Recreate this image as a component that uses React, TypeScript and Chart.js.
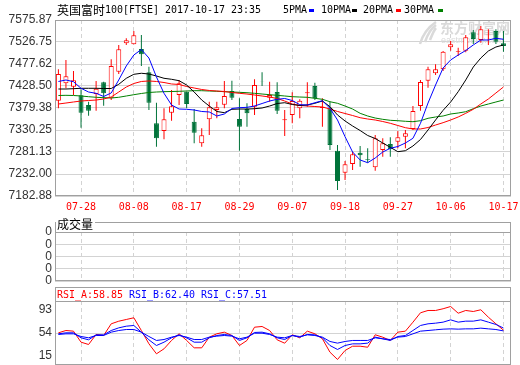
import React, { useEffect, useRef } from 'react';
import { Chart, registerables } from 'chart.js';

Chart.register(...registerables);

// ---------- data ----------
const dates = ['07-25','07-26','07-27','07-28','07-31','08-01','08-02','08-03','08-04','08-07','08-08','08-09','08-10','08-11','08-14','08-15','08-16','08-17','08-18','08-21','08-22','08-23','08-24','08-25','08-29','08-30','08-31','09-01','09-04','09-05','09-06','09-07','09-08','09-11','09-12','09-13','09-14','09-15','09-18','09-19','09-20','09-21','09-22','09-25','09-26','09-27','09-28','09-29','10-02','10-03','10-04','10-05','10-06','10-09','10-10','10-11','10-12','10-13','10-16','10-17'];
const tickDates = ['07-28','08-08','08-17','08-29','09-07','09-18','09-27','10-06','10-17'];

const opens = [7395.7,7434.5,7427.0,7407.6,7386.1,7410.6,7436.7,7400.9,7460.5,7523.8,7521.5,7511.1,7459.0,7345.1,7328.0,7369.0,7408.4,7415.8,7348.9,7300.5,7354.1,7374.9,7386.8,7417.3,7354.8,7377.1,7382.4,7438.2,7402.4,7415.1,7351.8,7363.7,7378.6,7412.1,7428.5,7379.4,7378.6,7284.1,7235.0,7254.3,7279.6,7265.5,7246.9,7285.6,7299.0,7304.2,7315.4,7332.5,7383.8,7440.4,7456.8,7465.7,7514.8,7505.2,7507.4,7548.3,7531.2,7541.6,7551.3,7523.8];
const highs = [7465.7,7486.6,7462.0,7421.0,7393.5,7439.6,7438.2,7488.0,7520.0,7534.9,7551.3,7542.4,7471.7,7391.3,7378.6,7419.6,7441.9,7415.8,7377.1,7333.9,7393.5,7393.5,7439.6,7440.4,7400.9,7389.8,7443.4,7459.0,7438.2,7436.7,7374.9,7414.4,7398.7,7436.7,7436.0,7400.9,7393.5,7296.8,7261.0,7281.9,7294.5,7289.3,7319.1,7311.7,7313.9,7328.0,7330.3,7383.8,7441.9,7471.7,7476.9,7506.7,7529.0,7514.1,7542.4,7553.5,7562.5,7555.0,7555.0,7551.3];
const lows = [7378.6,7423.3,7408.4,7335.5,7362.3,7373.4,7384.6,7397.2,7455.3,7520.0,7521.5,7473.1,7374.9,7293.0,7309.4,7351.1,7386.1,7378.6,7300.5,7293.0,7319.1,7356.3,7378.6,7397.2,7284.1,7337.7,7363.7,7428.5,7393.5,7366.0,7316.8,7345.1,7356.3,7382.4,7397.2,7337.7,7285.6,7196.3,7218.6,7240.9,7248.4,7257.3,7239.5,7270.7,7270.7,7289.3,7289.3,7330.3,7373.4,7424.8,7453.1,7462.0,7507.4,7495.5,7503.7,7522.3,7525.3,7520.0,7522.3,7505.2];
const closes = [7455.3,7450.1,7441.1,7369.0,7373.4,7422.5,7412.1,7473.1,7510.4,7530.5,7541.6,7499.2,7391.3,7311.6,7354.1,7383.1,7434.5,7388.3,7324.3,7318.3,7380.9,7380.9,7406.2,7402.4,7337.7,7367.5,7430.7,7437.4,7408.4,7373.4,7354.1,7395.0,7395.7,7414.4,7400.9,7382.4,7296.8,7216.4,7253.6,7275.9,7273.7,7264.0,7311.7,7300.5,7287.1,7313.9,7322.8,7372.7,7437.4,7465.7,7465.7,7505.2,7521.5,7506.7,7537.2,7533.4,7555.0,7543.1,7527.5,7517.8];

const ma5 = [7438.6,7441.9,7438.1,7423.4,7415.1,7412.2,7405.1,7412.9,7441.9,7473.2,7497.7,7510.0,7491.0,7448.6,7412.2,7386.1,7377.1,7376.5,7374.9,7371.6,7370.5,7361.5,7366.0,7378.3,7380.1,7380.9,7383.8,7389.4,7395.0,7398.8,7400.6,7396.1,7386.8,7386.1,7391.2,7395.7,7378.7,7352.6,7315.3,7281.1,7263.3,7257.2,7267.7,7281.1,7289.4,7293.4,7301.2,7311.7,7345.2,7390.5,7430.7,7468.7,7486.6,7497.7,7507.8,7520.1,7531.2,7531.2,7535.0,7532.8];
const ma10 = [7421.8,7421.8,7422.5,7423.4,7423.4,7423.4,7422.9,7422.9,7432.3,7445.7,7454.6,7456.9,7455.3,7450.8,7445.7,7443.5,7440.3,7430.7,7415.1,7397.2,7383.8,7371.6,7368.9,7376.5,7377.1,7377.1,7377.8,7379.4,7383.8,7389.4,7391.2,7387.2,7385.0,7386.1,7389.9,7395.0,7382.3,7363.8,7350.4,7339.2,7329.1,7318.0,7311.3,7301.2,7291.6,7281.8,7284.0,7294.5,7309.0,7330.3,7352.6,7374.2,7392.8,7415.8,7441.9,7470.9,7491.0,7506.7,7515.6,7520.1];
const ma20 = [7388.3,7390.5,7392.8,7395.0,7396.1,7397.2,7399.5,7403.9,7415.1,7426.3,7434.1,7438.6,7439.7,7438.6,7436.3,7433.0,7431.9,7427.4,7424.0,7420.7,7418.5,7417.3,7416.2,7414.0,7412.2,7410.6,7408.4,7406.2,7403.9,7400.6,7395.0,7388.3,7385.0,7383.8,7382.7,7381.6,7377.1,7371.6,7367.1,7362.6,7357.7,7354.8,7352.6,7349.2,7345.2,7340.3,7335.4,7332.5,7332.5,7335.8,7341.4,7346.6,7352.6,7359.3,7367.5,7376.5,7388.3,7399.5,7412.9,7426.3];
const ma30 = [7407.3,7407.7,7407.3,7406.2,7404.6,7403.3,7402.4,7401.7,7403.3,7406.2,7409.1,7411.8,7414.0,7415.1,7415.8,7416.2,7416.7,7417.3,7418.0,7418.0,7417.3,7416.7,7415.8,7415.1,7414.4,7413.5,7412.2,7410.6,7409.1,7407.7,7406.2,7404.6,7403.9,7403.3,7401.0,7398.8,7393.4,7389.9,7383.8,7377.1,7367.5,7361.5,7357.0,7354.1,7351.9,7351.0,7349.7,7348.8,7351.0,7356.4,7359.3,7361.5,7366.0,7368.2,7371.1,7377.8,7383.8,7388.3,7392.8,7397.2];

const priceTicks = [7182.88, 7232.00, 7281.13, 7330.25, 7379.38, 7428.50, 7477.62, 7526.75, 7575.87];

const volumes = [0,0,0,0,0,0,0,0,0,0,0,0,0,0,0,0,0,0,0,0,0,0,0,0,0,0,0,0,0,0,0,0,0,0,0,0,0,0,0,0,0,0,0,0,0,0,0,0,0,0,0,0,0,0,0,0,0,0,0,0];
const volumeTickLabels = ['0', '0', '0', '0', '0'];

const rsiA = [54.3,58.2,57.1,38.5,34.6,51.5,49.8,69.5,73.9,76.8,79.7,58.2,35.8,18.9,27.3,41.4,52.7,41.4,29.0,29.0,46.9,52.7,55.4,49.8,32.9,41.4,63.8,65.0,58.2,42.5,36.8,51.0,45.9,57.1,52.7,44.2,21.6,9.3,24.5,31.7,31.7,30.0,51.0,46.9,41.4,55.4,57.1,72.2,88.1,92.0,92.0,94.9,98.7,87.4,92.0,90.3,93.2,80.7,69.5,58.85];
const rsiB = [52.6,54.3,54.3,45.9,42.5,50.9,50.9,58.2,62.7,65.5,66.7,55.4,42.5,32.9,38.5,45.9,50.9,45.9,38.5,38.5,45.9,49.8,51.5,49.8,41.4,45.9,54.9,55.4,52.6,45.9,43.0,49.8,47.0,51.5,50.9,45.9,32.9,26.2,32.9,35.7,35.7,36.9,47.0,44.2,41.4,48.1,49.8,58.2,66.7,69.5,70.6,72.3,76.2,72.3,74.0,74.0,76.2,72.3,68.4,62.40];
const rsiC = [51.5,52.6,52.6,48.1,45.9,49.8,49.8,55.4,58.2,59.9,59.9,55.4,48.1,41.4,43.0,47.0,49.8,47.0,43.0,43.0,47.0,48.7,49.8,48.7,44.2,47.0,53.7,53.7,51.5,47.0,45.9,49.8,48.1,50.9,49.8,47.0,39.7,36.9,39.7,41.4,41.4,41.4,45.9,44.2,43.0,47.0,48.1,52.6,57.1,58.2,59.4,60.5,61.0,60.5,61.0,61.0,62.2,61.0,59.9,57.51];
const rsiTicks = [15, 54, 93];

const titleName = '英国富时';
const titleCode = '100[FTSE] 2017-10-17 23:35';
const maNames = ['5PMA', '10PMA', '20PMA', '30PMA'];

// ---------- styles ----------
const BLUE = '#0000ff';
const BLACK = '#000000';
const RED = '#ff0000';
const MA_GREEN = '#008000';
const CANDLE_GREEN = '#00733a';
const GRID = '#d3d3d3';
const FRAME = '#a0a0a0';
const LABEL = '#333333';
const SANS = '"Liberation Sans", Arial, sans-serif';
const MONO = '"DejaVu Sans Mono", "Liberation Mono", monospace';
const CJK = '"Noto Sans CJK SC", "Noto Sans CJK JP", sans-serif';
const maColors = [BLUE, BLACK, RED, MA_GREEN];

const X_MIN = -0.45;
const X_MAX = 60;
const tickIndexes = tickDates.map((d) => dates.indexOf(d));

function makeX(showLabels: boolean): any {
  return {
    type: 'linear',
    min: X_MIN,
    max: X_MAX,
    offset: false,
    afterBuildTicks: (s: any) => {
      s.ticks = tickIndexes.map((v) => ({ value: v }));
    },
    afterFit: (s: any) => {
      s.height = showLabels ? 18 : 0;
      s.paddingLeft = 0;
      s.paddingRight = 0;
    },
    ticks: {
      display: showLabels,
      autoSkip: false,
      maxRotation: 0,
      minRotation: 0,
      padding: 5,
      color: RED,
      font: { family: MONO, size: 10 },
      callback: (v: any) => dates[v] ?? '',
    },
    grid: { color: GRID, drawTicks: false, offset: false, borderDash: [4, 3] },
    border: { display: false, dash: [4, 3] },
  };
}

function makeY(min: number, max: number, ticks: number[], fmt: (v: number, i: number) => string, gridColor: any): any {
  return {
    type: 'linear',
    min,
    max,
    afterBuildTicks: (s: any) => {
      s.ticks = ticks.map((v) => ({ value: v }));
    },
    afterFit: (s: any) => {
      s.width = 55;
      s.paddingTop = 0;
      s.paddingBottom = 0;
    },
    ticks: {
      autoSkip: false,
      padding: 3,
      color: LABEL,
      font: { family: SANS, size: 12 },
      callback: (v: any, i: number) => fmt(Number(v), i),
    },
    grid: { color: gridColor, drawTicks: false },
    border: { display: false },
  };
}

const framePlugin = {
  id: 'frame',
  afterDraw(chart: any) {
    const { ctx, chartArea: a } = chart;
    ctx.save();
    ctx.strokeStyle = FRAME;
    ctx.lineWidth = 1;
    ctx.strokeRect(Math.round(a.left) + 0.5, Math.round(a.top) + 0.5, Math.round(a.right - a.left) - 1, Math.round(a.bottom - a.top) - 1);
    ctx.restore();
  },
};

const mainHeaderPlugin = {
  id: 'mainHeader',
  beforeDatasetsDraw(chart: any) {
    // watermark
    const ctx = chart.ctx;
    ctx.save();
    ctx.fillStyle = '#dadada';
    ctx.strokeStyle = '#dadada';
    ctx.lineWidth = 2.5;
    for (let k = 0; k < 3; k++) {
      ctx.beginPath();
      ctx.moveTo(420 + k * 5, 44 - k * 2);
      ctx.quadraticCurveTo(424 + k * 5, 30, 436, 22 + k * 3);
      ctx.stroke();
    }
    ctx.textBaseline = 'middle';
    ctx.font = `bold 14px ${CJK}`;
    ctx.fillText('东方财富网', 440, 28, 70);
    ctx.font = `9px ${SANS}`;
    ctx.fillText('eastmoney.com', 441, 41, 64);
    ctx.restore();
  },
  afterDraw(chart: any) {
    const ctx = chart.ctx;
    ctx.save();
    ctx.textBaseline = 'middle';
    ctx.fillStyle = '#000';
    ctx.font = `12px ${CJK}`;
    ctx.fillText(titleName, 57, 10);
    ctx.font = `11px ${MONO}`;
    ctx.fillText(titleCode, 105, 10, 156);
    const textX = [283, 321, 363, 404];
    const boxX = [309, 352, 396, 438];
    maNames.forEach((name, i) => {
      ctx.fillStyle = '#000';
      ctx.fillText(name, textX[i], 10, name.length * 6);
      ctx.fillStyle = maColors[i];
      ctx.fillRect(boxX[i], 9, 5, 3);
    });
    ctx.restore();
  },
};

const volHeaderPlugin = {
  id: 'volHeader',
  afterDraw(chart: any) {
    const { ctx, chartArea: a } = chart;
    ctx.save();
    ctx.strokeStyle = FRAME;
    ctx.lineWidth = 1;
    ctx.strokeRect(Math.round(a.left) + 0.5, 8.5, Math.round(a.right - a.left) - 1, Math.round(a.top) - 8);
    ctx.fillStyle = '#fff';
    ctx.fillRect(56, 3, 39, 13);
    ctx.fillStyle = '#000';
    ctx.textBaseline = 'middle';
    ctx.font = `12px ${CJK}`;
    ctx.fillText('成交量', 57, 10);
    ctx.restore();
  },
};

const rsiHeaderPlugin = {
  id: 'rsiHeader',
  afterDraw(chart: any) {
    const { ctx, chartArea: a } = chart;
    ctx.save();
    ctx.strokeStyle = FRAME;
    ctx.lineWidth = 1;
    ctx.strokeRect(Math.round(a.left) + 0.5, 2.5, Math.round(a.right - a.left) - 1, Math.round(a.top) - 2);
    ctx.textBaseline = 'middle';
    ctx.font = `11px ${MONO}`;
    const items = [
      { t: `RSI_A:${rsiA[rsiA.length - 1].toFixed(2)}`, c: RED, x: 57 },
      { t: `RSI_B:${rsiB[rsiB.length - 1].toFixed(2)}`, c: BLUE, x: 129 },
      { t: `RSI_C:${rsiC[rsiC.length - 1].toFixed(2)}`, c: BLUE, x: 201 },
    ];
    items.forEach((it) => {
      ctx.fillStyle = it.c;
      ctx.fillText(it.t, it.x, 10, it.t.length * 6);
    });
    ctx.restore();
  },
};

const baseOptions = {
  responsive: false,
  maintainAspectRatio: false,
  animation: false as const,
  devicePixelRatio: 1,
  events: [] as any[],
};

function mainConfig(): any {
  const up = closes.map((c, i) => c >= opens[i]);
  const lineDs = (data: number[], color: string, label: string) => ({
    type: 'line',
    label,
    data: data.map((v, i) => ({ x: i, y: v })),
    borderColor: color,
    borderWidth: 1,
    pointRadius: 0,
    tension: 0,
    fill: false,
    order: 0,
  });
  return {
    type: 'bar',
    data: {
      datasets: [
        lineDs(ma5, BLUE, maNames[0]),
        lineDs(ma10, BLACK, maNames[1]),
        lineDs(ma20, RED, maNames[2]),
        lineDs(ma30, MA_GREEN, maNames[3]),
        {
          type: 'bar',
          label: 'body',
          data: opens.map((o, i) => ({ x: i, y: [o, closes[i]] })),
          backgroundColor: up.map((u) => (u ? '#ffffff' : CANDLE_GREEN)),
          borderColor: up.map((u) => (u ? RED : CANDLE_GREEN)),
          borderWidth: 1,
          borderSkipped: false,
          barThickness: 5,
          grouped: false,
          inflateAmount: 0,
          order: 1,
        },
        {
          type: 'bar',
          label: 'wick',
          data: lows.map((l, i) => ({ x: i, y: [l, highs[i]] })),
          backgroundColor: up.map((u) => (u ? RED : CANDLE_GREEN)),
          borderWidth: 0,
          barThickness: 1,
          grouped: false,
          inflateAmount: 0,
          order: 2,
        },
      ],
    },
    options: {
      ...baseOptions,
      layout: { padding: { left: 0, right: 9, top: 20, bottom: 0 } },
      plugins: { legend: { display: false }, tooltip: { enabled: false }, title: { display: false } },
      scales: {
        x: makeX(true),
        y: makeY(priceTicks[0], priceTicks[priceTicks.length - 1], priceTicks, (v) => v.toFixed(2), GRID),
      },
    },
    plugins: [mainHeaderPlugin, framePlugin],
  };
}

function volConfig(): any {
  return {
    type: 'bar',
    data: {
      datasets: [
        {
          label: '成交量',
          data: volumes.map((v, i) => ({ x: i, y: v })),
          backgroundColor: RED,
          barThickness: 5,
        },
      ],
    },
    options: {
      ...baseOptions,
      layout: { padding: { left: 0, right: 9, top: 18, bottom: 4 } },
      plugins: { legend: { display: false }, tooltip: { enabled: false } },
      scales: {
        x: makeX(false),
        y: makeY(0, volumeTickLabels.length - 1, volumeTickLabels.map((_, i) => i), (_v, i) => volumeTickLabels[i], GRID),
      },
    },
    plugins: [framePlugin, volHeaderPlugin],
  };
}

function rsiConfig(): any {
  const ds = (data: number[], color: string, label: string) => ({
    label,
    data: data.map((v, i) => ({ x: i, y: v })),
    borderColor: color,
    borderWidth: 1,
    pointRadius: 0,
    tension: 0,
    fill: false,
  });
  return {
    type: 'line',
    data: {
      datasets: [ds(rsiC, BLUE, 'RSI_C'), ds(rsiB, BLUE, 'RSI_B'), ds(rsiA, RED, 'RSI_A')],
    },
    options: {
      ...baseOptions,
      layout: { padding: { left: 0, right: 9, top: 16, bottom: 0 } },
      plugins: { legend: { display: false }, tooltip: { enabled: false } },
      scales: {
        x: makeX(false),
        y: makeY(0, 108, rsiTicks, (v) => String(v), (c: any) => (c.tick && c.tick.value === 54 ? GRID : 'rgba(0,0,0,0)')),
      },
    },
    plugins: [framePlugin, rsiHeaderPlugin],
  };
}

export default function App() {
  const mainRef = useRef<HTMLCanvasElement>(null);
  const volRef = useRef<HTMLCanvasElement>(null);
  const rsiRef = useRef<HTMLCanvasElement>(null);

  useEffect(() => {
    const charts = [
      new Chart(mainRef.current as HTMLCanvasElement, mainConfig()),
      new Chart(volRef.current as HTMLCanvasElement, volConfig()),
      new Chart(rsiRef.current as HTMLCanvasElement, rsiConfig()),
    ];
    return () => charts.forEach((c) => c.destroy());
  }, []);

  return (
    <div style={{ position: 'fixed', left: 0, top: 0, width: 520, height: 365, background: '#ffffff' }}>
      <canvas ref={mainRef} width={520} height={214} style={{ position: 'absolute', left: 0, top: 0 }} />
      <canvas ref={volRef} width={520} height={71} style={{ position: 'absolute', left: 0, top: 214 }} />
      <canvas ref={rsiRef} width={520} height={80} style={{ position: 'absolute', left: 0, top: 285 }} />
    </div>
  );
}
